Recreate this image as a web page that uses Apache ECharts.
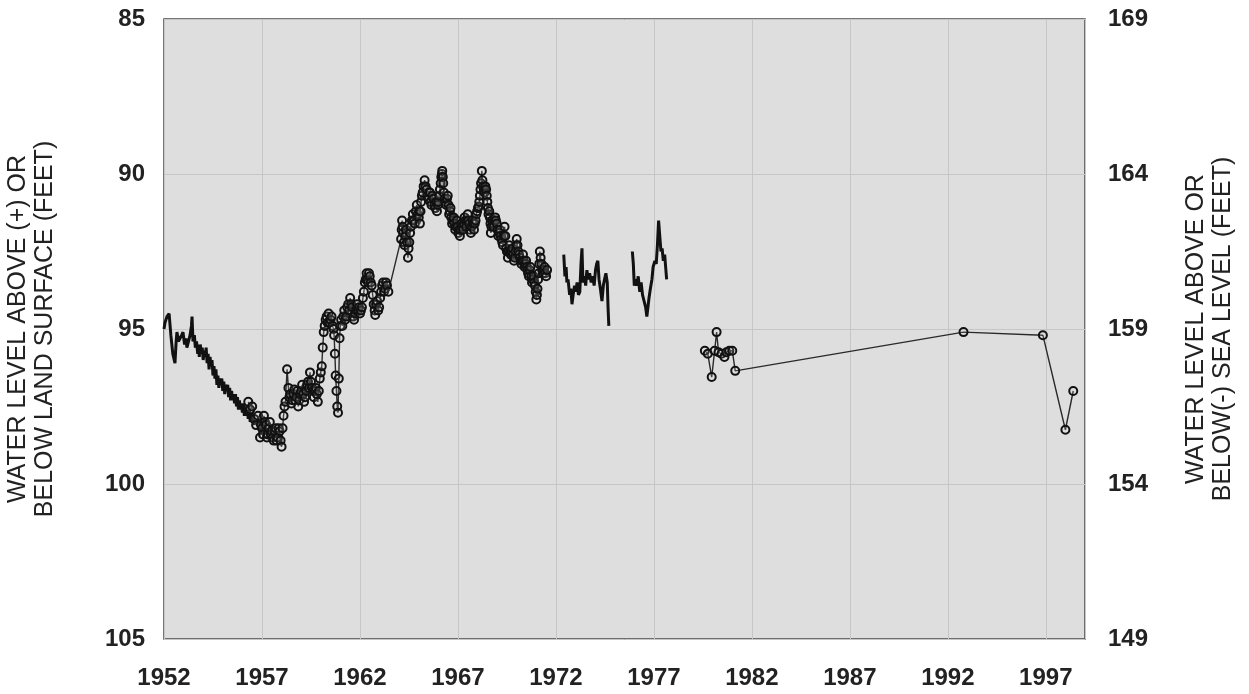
<!DOCTYPE html>
<html>
<head>
<meta charset="utf-8">
<title>Water level</title>
<script src="https://cdn.jsdelivr.net/npm/echarts@6/dist/echarts.min.js"></script>
<style>
  html, body { margin: 0; padding: 0; background: #fff; }
  #main { width: 1249px; height: 694px; }
</style>
</head>
<body>
<div id="main"></div>
<script>
// year offset so the ticks fall on 1952, 1957, ...
var X0 = 1952;
var yearTicks = [1952, 1957, 1962, 1967, 1972, 1977, 1982, 1987, 1992, 1997];
var levelTicks = [85, 90, 95, 100, 105];
var datumOffset = 254; // land surface -> sea level

// continuous recorder, line only  [year, feet below land surface]
var recorder1952 = [
  [1952.00, 95.0], [1952.05, 94.8], [1952.15, 94.6], [1952.26, 94.5], [1952.35, 95.2],
  [1952.45, 95.8], [1952.56, 96.1], [1952.62, 95.4], [1952.66, 95.1], [1952.74, 95.4],
  [1952.82, 95.3], [1952.90, 95.2], [1952.97, 95.1], [1953.05, 95.5], [1953.12, 95.3],
  [1953.17, 95.6], [1953.25, 95.4], [1953.33, 95.2], [1953.40, 94.9], [1953.43, 94.6],
  [1953.48, 95.4], [1953.55, 95.2], [1953.60, 95.6], [1953.66, 95.4], [1953.72, 95.8],
  [1953.78, 95.5], [1953.80, 95.9], [1953.85, 95.5], [1953.90, 95.8], [1953.95, 95.6],
  [1954.00, 96.0], [1954.05, 95.7], [1954.10, 95.9], [1954.15, 95.6], [1954.20, 96.1],
  [1954.25, 95.8], [1954.30, 96.3], [1954.35, 95.9], [1954.40, 96.2], [1954.45, 96.0],
  [1954.50, 96.5], [1954.55, 96.2], [1954.60, 96.6], [1954.65, 96.3], [1954.70, 96.8],
  [1954.75, 96.5], [1954.80, 96.9], [1954.85, 96.6], [1954.90, 96.8], [1954.95, 96.6],
  [1955.00, 97.0], [1955.05, 96.7], [1955.10, 97.1], [1955.15, 96.8], [1955.20, 97.0],
  [1955.25, 96.8], [1955.30, 97.2], [1955.35, 96.9], [1955.40, 97.3], [1955.45, 97.0],
  [1955.50, 97.3], [1955.55, 97.1], [1955.60, 97.4], [1955.65, 97.1], [1955.70, 97.5],
  [1955.75, 97.2], [1955.80, 97.6], [1955.85, 97.3], [1955.90, 97.6], [1955.95, 97.4],
  [1956.00, 97.7], [1956.05, 97.4], [1956.10, 97.8], [1956.15, 97.5], [1956.20, 97.8],
  [1956.25, 97.6], [1956.30, 97.9], [1956.35, 97.6], [1956.40, 98.0], [1956.45, 97.7],
  [1956.50, 98.0], [1956.55, 97.8], [1956.60, 98.1]
];
var recorder1972 = [
  [1972.40, 92.6], [1972.46, 93.3], [1972.52, 93.0], [1972.56, 93.5], [1972.62, 93.4],
  [1972.70, 93.9], [1972.76, 93.7], [1972.82, 94.2], [1972.88, 93.9], [1972.95, 93.6],
  [1973.02, 93.8], [1973.08, 93.5], [1973.15, 93.9], [1973.22, 93.8], [1973.28, 92.9],
  [1973.33, 92.4], [1973.38, 93.5], [1973.45, 93.3], [1973.52, 93.6], [1973.58, 93.1],
  [1973.65, 93.4], [1973.72, 93.2], [1973.80, 93.5], [1973.88, 93.3], [1973.95, 93.6],
  [1974.02, 93.1], [1974.08, 92.9], [1974.14, 92.8], [1974.20, 93.4], [1974.27, 93.7],
  [1974.35, 94.1], [1974.42, 93.6], [1974.48, 93.4], [1974.55, 93.2], [1974.62, 93.5],
  [1974.66, 94.3], [1974.70, 94.9]
];
var recorder1976 = [
  [1975.90, 92.5], [1975.95, 92.9], [1976.00, 93.6], [1976.06, 93.4], [1976.13, 93.6],
  [1976.20, 93.3], [1976.28, 93.8], [1976.35, 93.5], [1976.42, 93.9], [1976.50, 94.1],
  [1976.58, 94.3], [1976.64, 94.6], [1976.69, 94.6], [1976.75, 94.0], [1976.82, 93.7],
  [1976.90, 93.4], [1976.96, 93.0], [1977.05, 92.8], [1977.12, 92.9], [1977.18, 92.3],
  [1977.24, 91.5], [1977.30, 92.0], [1977.36, 92.5], [1977.42, 92.4], [1977.48, 92.8],
  [1977.55, 92.6], [1977.60, 93.0], [1977.65, 93.4]
];

// periodic measurements, circles
var measured1956 = [
  [1956.30, 97.35], [1956.40, 97.6], [1956.50, 97.5], [1956.60, 97.9], [1956.70, 98.1],
  [1956.80, 97.8], [1956.90, 98.5], [1956.95, 98.1], [1957.00, 98.2], [1957.05, 98.4],
  [1957.10, 97.8], [1957.15, 98.0], [1957.20, 98.1], [1957.25, 98.5], [1957.30, 98.4],
  [1957.35, 98.2], [1957.40, 98.0], [1957.45, 98.4], [1957.50, 98.3], [1957.55, 98.5],
  [1957.60, 98.6], [1957.65, 98.3], [1957.70, 98.2], [1957.75, 98.6], [1957.80, 98.5],
  [1957.85, 98.2], [1957.90, 98.3], [1957.95, 98.6], [1958.00, 98.8], [1958.05, 98.2],
  [1958.10, 97.8], [1958.15, 97.5], [1958.20, 97.35], [1958.28, 96.3], [1958.35, 96.9],
  [1958.40, 97.2], [1958.45, 97.1], [1958.50, 97.4], [1958.55, 97.3], [1958.60, 97.1],
  [1958.65, 96.95], [1958.70, 97.3], [1958.75, 97.2], [1958.80, 97.0], [1958.85, 97.5],
  [1958.90, 97.3], [1958.95, 97.1], [1959.00, 97.0], [1959.05, 96.8], [1959.10, 97.1],
  [1959.15, 97.35], [1959.20, 97.2], [1959.25, 97.0], [1959.30, 96.8], [1959.35, 96.7],
  [1959.40, 96.9], [1959.45, 96.4], [1959.50, 96.7], [1959.55, 96.9], [1959.60, 97.0],
  [1959.65, 97.2], [1959.70, 97.0], [1959.75, 96.9], [1959.80, 97.1], [1959.85, 97.35],
  [1959.90, 97.0], [1959.95, 96.6], [1960.00, 96.4], [1960.05, 96.2], [1960.10, 95.6],
  [1960.15, 95.1], [1960.20, 94.9], [1960.25, 94.7], [1960.30, 94.6], [1960.35, 94.8],
  [1960.40, 94.5], [1960.45, 94.8], [1960.50, 94.7], [1960.55, 94.6], [1960.60, 94.9],
  [1960.65, 95.0], [1960.68, 95.2], [1960.72, 95.8], [1960.76, 96.5], [1960.80, 97.0],
  [1960.84, 97.5], [1960.88, 97.7], [1960.92, 96.6], [1960.96, 95.3], [1961.00, 94.9],
  [1961.04, 94.7], [1961.10, 94.9], [1961.15, 94.6], [1961.20, 94.4], [1961.25, 94.7],
  [1961.30, 94.6], [1961.35, 94.3], [1961.40, 94.2], [1961.45, 94.4], [1961.50, 94.0],
  [1961.55, 94.2], [1961.60, 94.3], [1961.65, 94.6], [1961.70, 94.7], [1961.75, 94.5],
  [1961.80, 94.4], [1961.85, 94.2], [1961.90, 94.4], [1961.95, 94.3], [1962.00, 94.5],
  [1962.05, 94.4], [1962.10, 94.3], [1962.15, 94.0], [1962.20, 93.8], [1962.25, 93.5],
  [1962.30, 93.4], [1962.34, 93.2], [1962.38, 93.4], [1962.42, 93.5], [1962.46, 93.2],
  [1962.50, 93.3], [1962.55, 93.5], [1962.60, 93.6], [1962.65, 93.9], [1962.70, 94.2],
  [1962.75, 94.4], [1962.78, 94.55], [1962.82, 94.2], [1962.88, 94.1], [1962.93, 94.4],
  [1962.98, 94.3], [1963.03, 94.0], [1963.08, 93.8], [1963.13, 93.6], [1963.18, 93.5],
  [1963.23, 93.8], [1963.28, 93.7], [1963.33, 93.5], [1963.38, 93.6], [1963.45, 93.8],
  [1964.10, 92.1], [1964.13, 91.8], [1964.15, 91.5], [1964.18, 91.7], [1964.20, 91.9],
  [1964.24, 92.2], [1964.28, 92.3], [1964.32, 92.0], [1964.35, 91.8], [1964.40, 92.2],
  [1964.45, 92.7], [1964.48, 92.4], [1964.52, 92.2], [1964.56, 91.9], [1964.60, 91.7],
  [1964.65, 91.5], [1964.70, 91.3], [1964.75, 91.5], [1964.80, 91.6], [1964.85, 91.2],
  [1964.90, 91.0], [1964.95, 91.3], [1965.00, 91.4], [1965.03, 91.2], [1965.06, 91.6],
  [1965.09, 91.2], [1965.12, 90.9], [1965.16, 90.7], [1965.20, 90.6], [1965.25, 90.4],
  [1965.30, 90.2], [1965.35, 90.4], [1965.40, 90.5], [1965.45, 90.7], [1965.50, 90.8],
  [1965.54, 90.6], [1965.57, 90.6], [1965.61, 90.9], [1965.65, 91.0], [1965.70, 90.7],
  [1965.75, 90.8], [1965.80, 91.0], [1965.85, 91.1], [1965.89, 90.9], [1965.93, 91.2],
  [1965.97, 91.0], [1966.00, 90.9], [1966.04, 90.7], [1966.08, 90.5], [1966.12, 90.3],
  [1966.15, 90.1], [1966.18, 90.0], [1966.20, 89.9], [1966.23, 90.1], [1966.25, 90.3],
  [1966.28, 90.6], [1966.32, 90.8], [1966.36, 90.9], [1966.40, 91.0], [1966.44, 90.8],
  [1966.48, 90.7], [1966.52, 91.0], [1966.55, 91.3], [1966.59, 91.2], [1966.62, 91.1],
  [1966.66, 91.4], [1966.70, 91.6], [1966.74, 91.5], [1966.78, 91.4], [1966.82, 91.6],
  [1966.86, 91.8], [1966.90, 91.7], [1966.94, 91.5], [1966.98, 91.7], [1967.02, 91.9],
  [1967.06, 91.8], [1967.10, 92.0], [1967.14, 91.8], [1967.18, 91.6], [1967.22, 91.7],
  [1967.26, 91.8], [1967.30, 91.6], [1967.34, 91.4], [1967.38, 91.5], [1967.42, 91.7],
  [1967.46, 91.5], [1967.50, 91.3], [1967.54, 91.5], [1967.58, 91.6], [1967.62, 91.8],
  [1967.66, 91.9], [1967.70, 91.7], [1967.74, 91.5], [1967.78, 91.6], [1967.82, 91.8],
  [1967.86, 91.6], [1967.90, 91.5], [1967.94, 91.3], [1967.98, 91.2], [1968.02, 91.1],
  [1968.06, 91.05], [1968.09, 90.9], [1968.12, 90.7], [1968.15, 90.5], [1968.18, 90.3],
  [1968.22, 89.9], [1968.25, 90.2], [1968.28, 90.4], [1968.32, 90.5], [1968.36, 90.6],
  [1968.40, 90.4], [1968.44, 90.5], [1968.47, 90.7], [1968.50, 90.9], [1968.53, 91.1],
  [1968.56, 91.3], [1968.60, 91.2], [1968.63, 91.4], [1968.66, 91.6], [1968.68, 91.9],
  [1968.71, 91.7], [1968.74, 91.5], [1968.78, 91.6], [1968.82, 91.7], [1968.86, 91.5],
  [1968.90, 91.4], [1968.94, 91.5], [1968.98, 91.6], [1969.02, 91.8], [1969.06, 92.0],
  [1969.10, 91.9], [1969.14, 91.8], [1969.18, 92.0], [1969.22, 92.1], [1969.26, 92.2],
  [1969.30, 92.3], [1969.34, 92.0], [1969.38, 91.7], [1969.42, 92.0], [1969.46, 92.4],
  [1969.50, 92.5], [1969.55, 92.7], [1969.58, 92.5], [1969.62, 92.3], [1969.66, 92.5],
  [1969.70, 92.6], [1969.74, 92.5], [1969.78, 92.4], [1969.82, 92.6], [1969.86, 92.8],
  [1969.90, 92.7], [1969.94, 92.5], [1969.97, 92.3], [1970.00, 92.1], [1970.04, 92.3],
  [1970.08, 92.5], [1970.12, 92.6], [1970.16, 92.7], [1970.20, 92.8], [1970.24, 92.9],
  [1970.28, 92.8], [1970.32, 92.6], [1970.36, 92.8], [1970.40, 93.0], [1970.44, 92.9],
  [1970.48, 92.8], [1970.52, 93.0], [1970.55, 93.1], [1970.58, 93.2], [1970.62, 93.3],
  [1970.66, 93.1], [1970.70, 93.0], [1970.74, 93.3], [1970.78, 93.5], [1970.82, 93.4],
  [1970.86, 93.3], [1970.90, 93.5], [1970.93, 93.6], [1970.97, 93.8], [1971.00, 94.05],
  [1971.03, 93.9], [1971.06, 93.7], [1971.09, 93.4], [1971.12, 93.2], [1971.15, 92.9],
  [1971.18, 92.5], [1971.22, 92.7], [1971.26, 92.9], [1971.30, 93.1], [1971.34, 93.2],
  [1971.38, 93.1], [1971.42, 93.0], [1971.46, 93.2], [1971.50, 93.3], [1971.55, 93.1]
];
var measured1979 = [
  [1979.60, 95.7], [1979.75, 95.8], [1979.95, 96.55], [1980.10, 95.7], [1980.20, 95.1],
  [1980.30, 95.75], [1980.45, 95.8], [1980.60, 95.9], [1980.70, 95.75], [1980.85, 95.7],
  [1981.00, 95.7], [1981.15, 96.35], [1992.80, 95.1], [1996.85, 95.2], [1998.00, 98.25],
  [1998.40, 97.0]
];

function shift(list) {
  var out = [];
  for (var i = 0; i < list.length; i++) {
    out.push([list[i][0] - X0, list[i][1]]);
  }
  return out;
}

function recorderSeries(list) {
  return {
    type: 'line',
    data: shift(list),
    showSymbol: false,
    symbol: 'none',
    lineStyle: { color: '#111', width: 3 },
    z: 3,
    silent: true
  };
}

function measuredSeries(list) {
  return {
    type: 'line',
    data: shift(list),
    symbol: 'circle',
    symbolSize: 8,
    showAllSymbol: true,
    lineStyle: { color: '#2a2a2a', width: 1.4 },
    itemStyle: { color: 'rgba(220,220,220,0.15)', borderColor: '#111', borderWidth: 2 },
    z: 4,
    silent: true
  };
}

var labelFont = {
  fontFamily: 'Liberation Sans, Arial, sans-serif',
  fontWeight: 'bold',
  fontSize: 24,
  color: '#222'
};
var nameFont = {
  fontFamily: 'Liberation Sans, Arial, sans-serif',
  fontSize: 25,
  lineHeight: 27,
  color: '#222'
};

var myChart = echarts.init(document.getElementById('main'));
myChart.setOption({
  animation: false,
  backgroundColor: '#fff',
  grid: {
    left: 164, right: 164, top: 19, bottom: 55,
    outerBoundsMode: 'none',
    containLabel: false,
    show: true,
    backgroundColor: '#dedede',
    borderColor: '#4a4a4a',
    borderWidth: 1.5
  },
  xAxis: {
    type: 'value',
    min: yearTicks[0] - X0,
    max: 1999 - X0,
    interval: 5,
    axisLine: { show: false },
    axisTick: { show: false },
    splitLine: { show: true, lineStyle: { color: '#c6c6c6', width: 1 } },
    axisLabel: Object.assign({
      margin: 27,
      showMaxLabel: false,
      formatter: function (v) { return String(v + X0); }
    }, labelFont)
  },
  yAxis: [
    {
      type: 'value',
      inverse: true,
      min: levelTicks[0],
      max: levelTicks[levelTicks.length - 1],
      interval: 5,
      position: 'left',
      axisLine: { show: false },
      axisTick: { show: false },
      splitLine: { show: true, lineStyle: { color: '#c6c6c6', width: 1 } },
      axisLabel: Object.assign({ margin: 19 }, labelFont),
      name: 'WATER LEVEL ABOVE (+) OR\nBELOW LAND SURFACE (FEET)',
      nameLocation: 'middle',
      nameRotate: 90,
      nameGap: 105,
      nameTextStyle: nameFont
    },
    {
      type: 'value',
      inverse: true,
      min: levelTicks[0],
      max: levelTicks[levelTicks.length - 1],
      interval: 5,
      position: 'right',
      axisLine: { show: false },
      axisTick: { show: false },
      splitLine: { show: false },
      axisLabel: Object.assign({
        margin: 23,
        formatter: function (v) { return String(datumOffset - v); }
      }, labelFont),
      name: 'WATER LEVEL ABOVE OR\nBELOW(-) SEA LEVEL (FEET)',
      nameLocation: 'middle',
      nameRotate: 90,
      nameGap: 98,
      nameTextStyle: nameFont
    }
  ],
  series: [
    recorderSeries(recorder1952),
    recorderSeries(recorder1972),
    recorderSeries(recorder1976),
    measuredSeries(measured1956),
    measuredSeries(measured1979)
  ]
});
</script>
</body>
</html>
